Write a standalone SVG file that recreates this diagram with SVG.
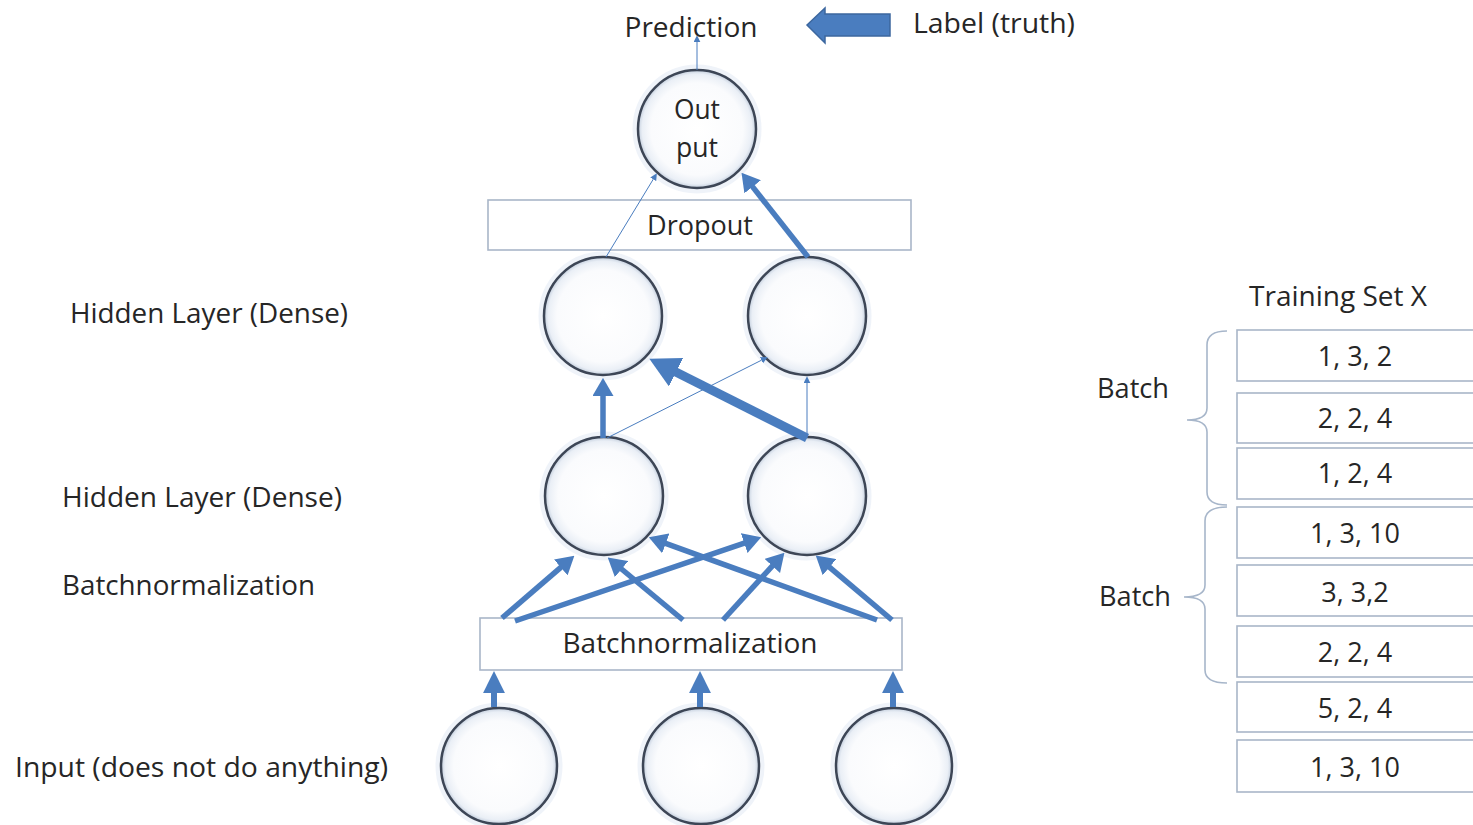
<svg xmlns="http://www.w3.org/2000/svg" width="1473" height="825" viewBox="0 0 1473 825">
  <style>
    text { font-family: "Open Sans", "Noto Sans", "Liberation Sans", sans-serif; font-size: 27px; fill: #262626; }
    .mid { text-anchor: middle; }
    .neuron { fill: url(#neuronFill); stroke: #3d4656; stroke-width: 2.5; }
    .halo { fill: none; stroke: #e8eef6; stroke-width: 5; opacity: 0.7; }
    .layer { fill: #ffffff; stroke: #a9b6c8; stroke-width: 1.6; }
    .row { fill: #ffffff; stroke: #a9b6c8; stroke-width: 1.6; }
    .brace { fill: none; stroke: #a7b6ca; stroke-width: 1.6; }
    .w-thin { stroke: #4a7dbf; stroke-width: 1; fill: none; marker-end: url(#headThin); }
    .w-mid { stroke: #4a7dbf; stroke-width: 5.5; fill: none; marker-end: url(#head); }
    .w-in { stroke: #4a7dbf; stroke-width: 6; fill: none; marker-end: url(#headIn); }
    .w-big { stroke: #4a7dbf; stroke-width: 9; fill: none; marker-end: url(#headBig); }
  </style>
  <defs>
    <radialGradient id="neuronFill" cx="0.5" cy="0.5" r="0.5">
      <stop offset="0" stop-color="#ffffff"/>
      <stop offset="0.78" stop-color="#fafbfd"/>
      <stop offset="0.93" stop-color="#eaeff6"/>
      <stop offset="1" stop-color="#c3cedd"/>
    </radialGradient>
    <marker id="head" viewBox="0 0 10 10" refX="0.5" refY="5" markerUnits="userSpaceOnUse" markerWidth="18" markerHeight="21" preserveAspectRatio="none" orient="auto">
      <path d="M0,0 L10,5 L0,10 z" fill="#4a7dbf"/>
    </marker>
    <marker id="headIn" viewBox="0 0 10 10" refX="0.5" refY="5" markerUnits="userSpaceOnUse" markerWidth="22" markerHeight="22" preserveAspectRatio="none" orient="auto">
      <path d="M0,0 L10,5 L0,10 z" fill="#4a7dbf"/>
    </marker>
    <marker id="headBig" viewBox="0 0 10 10" refX="0.5" refY="5" markerUnits="userSpaceOnUse" markerWidth="30" markerHeight="32" preserveAspectRatio="none" orient="auto">
      <path d="M0,0 L10,5 L0,10 z" fill="#4a7dbf"/>
    </marker>
    <marker id="headThin" viewBox="0 0 10 10" refX="0.5" refY="5" markerUnits="userSpaceOnUse" markerWidth="7" markerHeight="7" preserveAspectRatio="none" orient="auto">
      <path d="M0,0 L10,5 L0,10 z" fill="#4a7dbf"/>
    </marker>
  </defs>

  <rect width="1473" height="825" fill="#ffffff"/>

  <!-- top labels and the truth arrow -->
  <g id="prediction">
    <text x="691" y="37" class="mid" textLength="133" lengthAdjust="spacingAndGlyphs">Prediction</text>
  </g>
  <g id="label-truth">
    <polygon points="807,25 825,8 825,14 890,14 890,36 825,36 825,43" fill="#4a7dbf" stroke="#3c679f" stroke-width="1.5"/>
    <text x="913" y="33" textLength="162" lengthAdjust="spacingAndGlyphs">Label (truth)</text>
  </g>

  <!-- layer captions -->
  <g id="caption-hidden2">
    <text x="70" y="323" textLength="278" lengthAdjust="spacingAndGlyphs">Hidden Layer (Dense)</text>
  </g>
  <g id="caption-hidden1">
    <text x="62" y="507" textLength="280" lengthAdjust="spacingAndGlyphs">Hidden Layer (Dense)</text>
  </g>
  <g id="caption-bn">
    <text x="62" y="595" textLength="253" lengthAdjust="spacingAndGlyphs">Batchnormalization</text>
  </g>
  <g id="caption-input">
    <text x="15" y="777" textLength="373" lengthAdjust="spacingAndGlyphs">Input (does not do anything)</text>
  </g>

  <!-- layer bars -->
  <g id="dropout">
    <rect class="layer" x="488" y="200" width="423" height="50"/>
    <text x="700" y="235" class="mid" textLength="106" lengthAdjust="spacingAndGlyphs">Dropout</text>
  </g>
  <g id="batchnorm">
    <rect class="layer" x="480" y="618" width="422" height="52"/>
    <text x="690" y="653" class="mid" textLength="255" lengthAdjust="spacingAndGlyphs">Batchnormalization</text>
  </g>

  <!-- neurons -->
  <g id="output">
    <circle class="halo" cx="697" cy="129" r="62"/>
    <circle class="neuron" cx="697" cy="129" r="59"/>
    <text x="697" y="119" class="mid" textLength="46" lengthAdjust="spacingAndGlyphs">Out</text>
    <text x="697" y="157" class="mid" textLength="42" lengthAdjust="spacingAndGlyphs">put</text>
  </g>
  <g id="h2-left">
    <circle class="halo" cx="603" cy="316" r="62"/>
    <circle class="neuron" cx="603" cy="316" r="59"/>
  </g>
  <g id="h2-right">
    <circle class="halo" cx="807" cy="316" r="62"/>
    <circle class="neuron" cx="807" cy="316" r="59"/>
  </g>
  <g id="h1-left">
    <circle class="halo" cx="604" cy="496" r="62"/>
    <circle class="neuron" cx="604" cy="496" r="59"/>
  </g>
  <g id="h1-right">
    <circle class="halo" cx="807" cy="496" r="62"/>
    <circle class="neuron" cx="807" cy="496" r="59"/>
  </g>
  <g id="in-1">
    <circle class="halo" cx="499" cy="766" r="61"/>
    <circle class="neuron" cx="499" cy="766" r="58"/>
  </g>
  <g id="in-2">
    <circle class="halo" cx="701" cy="766" r="61"/>
    <circle class="neuron" cx="701" cy="766" r="58"/>
  </g>
  <g id="in-3">
    <circle class="halo" cx="894" cy="766" r="61"/>
    <circle class="neuron" cx="894" cy="766" r="58"/>
  </g>

  <!-- weighted connections; line ends sit at the arrowhead base -->
  <g id="connectors">
    <line class="w-thin" x1="697" y1="70" x2="697" y2="42"/>
    <line class="w-thin" x1="606" y1="257" x2="653.4" y2="179"/>
    <line class="w-mid" x1="808" y1="257" x2="752.1" y2="186.1"/>
    <line class="w-mid" x1="603" y1="438" x2="603" y2="395"/>
    <line class="w-thin" x1="607" y1="438" x2="761.7" y2="360.1"/>
    <line class="w-big" x1="807" y1="438" x2="674.8" y2="371.5"/>
    <line class="w-thin" x1="807" y1="438" x2="807" y2="383"/>

    <line class="w-mid" x1="502" y1="618" x2="561.4" y2="566.8"/>
    <line class="w-mid" x1="515" y1="621" x2="745" y2="542.8"/>
    <line class="w-mid" x1="683" y1="620" x2="620.9" y2="568.5"/>
    <line class="w-mid" x1="723" y1="620" x2="772.9" y2="565.3"/>
    <line class="w-mid" x1="877" y1="620" x2="664.9" y2="543.1"/>
    <line class="w-mid" x1="892" y1="620" x2="828.8" y2="566.6"/>

    <line class="w-in" x1="494" y1="707" x2="494" y2="692"/>
    <line class="w-in" x1="700" y1="707" x2="700" y2="692"/>
    <line class="w-in" x1="893" y1="707" x2="893" y2="692"/>
  </g>

  <!-- training set table -->
  <g id="training-set">
    <text x="1249" y="306" textLength="178" lengthAdjust="spacingAndGlyphs">Training Set X</text>
    <rect class="row" x="1237" y="330" width="240" height="51"/>
    <rect class="row" x="1237" y="393" width="240" height="50"/>
    <rect class="row" x="1237" y="448" width="240" height="51"/>
    <rect class="row" x="1237" y="507" width="240" height="51"/>
    <rect class="row" x="1237" y="565" width="240" height="51"/>
    <rect class="row" x="1237" y="626" width="240" height="51"/>
    <rect class="row" x="1237" y="682" width="240" height="50"/>
    <rect class="row" x="1237" y="740" width="240" height="52"/>
    <text x="1355" y="366" class="mid">1, 3, 2</text>
    <text x="1355" y="428" class="mid">2, 2, 4</text>
    <text x="1355" y="483" class="mid">1, 2, 4</text>
    <text x="1355" y="543" class="mid">1, 3, 10</text>
    <text x="1355" y="602" class="mid">3, 3,2</text>
    <text x="1355" y="662" class="mid">2, 2, 4</text>
    <text x="1355" y="718" class="mid">5, 2, 4</text>
    <text x="1355" y="777" class="mid">1, 3, 10</text>
  </g>

  <g id="batch-1">
    <path class="brace" d="M1227,331 Q1207,331 1207,345 L1207,408 Q1207,420 1187,420 Q1207,420 1207,432 L1207,492 Q1207,505 1227,505"/>
    <text x="1097" y="398" textLength="72" lengthAdjust="spacingAndGlyphs">Batch</text>
  </g>
  <g id="batch-2">
    <path class="brace" d="M1227,507 Q1205,507 1205,521 L1205,585 Q1205,597 1184,597 Q1205,597 1205,609 L1205,670 Q1205,683 1227,683"/>
    <text x="1099" y="606" textLength="72" lengthAdjust="spacingAndGlyphs">Batch</text>
  </g>
</svg>
